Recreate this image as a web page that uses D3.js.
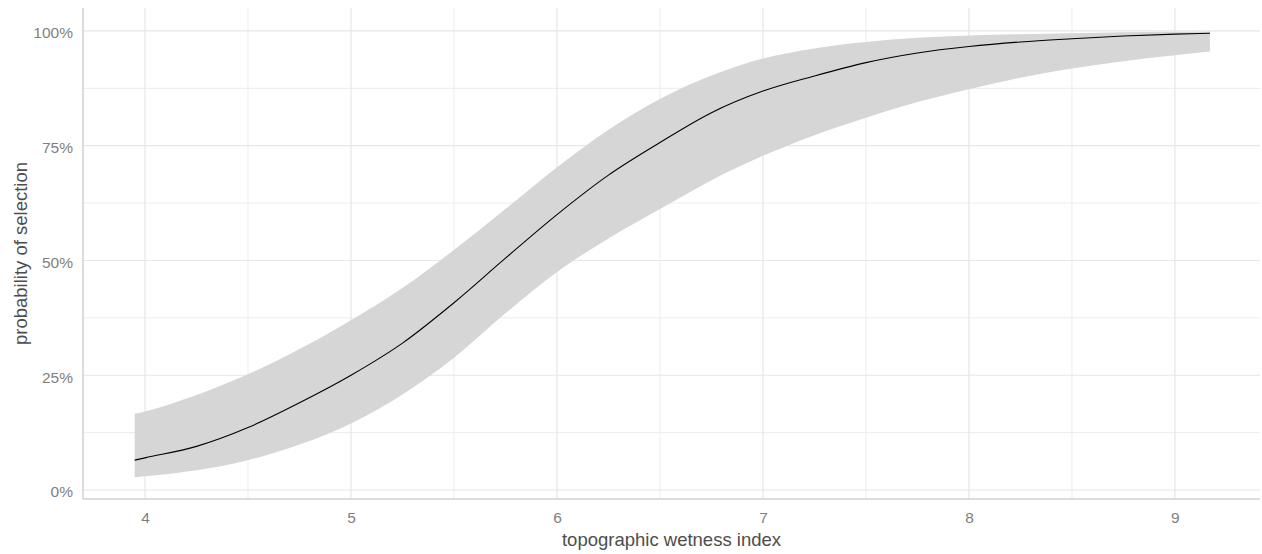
<!DOCTYPE html>
<html>
<head>
<meta charset="utf-8">
<script src="https://cdn.jsdelivr.net/npm/d3@7"></script>
<style>
  html, body { margin: 0; padding: 0; background: #ffffff; }
  svg { display: block; font-family: "Liberation Sans", Arial, sans-serif; }
</style>
</head>
<body>
<svg id="chart" width="1262" height="554"></svg>
<script>
// Predicted probability of selection along topographic wetness index
const twi   = [3.95, 4.00, 4.25, 4.50, 4.75, 5.00, 5.25, 5.50, 5.75, 6.00, 6.25, 6.50, 6.75, 7.00, 7.25, 7.50, 7.75, 8.00, 8.25, 8.50, 8.75, 9.00, 9.17];
const prob  = [0.065, 0.070, 0.095, 0.136, 0.190, 0.250, 0.320, 0.408, 0.505, 0.600, 0.686, 0.757, 0.822, 0.869, 0.902, 0.931, 0.952, 0.966, 0.976, 0.983, 0.989, 0.993, 0.995];
const lower = [0.028, 0.030, 0.043, 0.065, 0.099, 0.145, 0.208, 0.288, 0.385, 0.475, 0.548, 0.612, 0.675, 0.728, 0.773, 0.811, 0.845, 0.873, 0.898, 0.918, 0.934, 0.947, 0.955];
const upper = [0.166, 0.171, 0.207, 0.252, 0.307, 0.370, 0.440, 0.523, 0.612, 0.703, 0.785, 0.852, 0.903, 0.940, 0.962, 0.976, 0.985, 0.990, 0.993, 0.995, 0.997, 0.998, 0.999];

const xTicks = [4, 5, 6, 7, 8, 9];
const xMinor = [4.5, 5.5, 6.5, 7.5, 8.5];
const yTicks = [0, 0.25, 0.5, 0.75, 1];
const yMinor = [0.125, 0.375, 0.625, 0.875];

const rows = twi.map((x, i) => ({ x, p: prob[i], lo: lower[i], hi: upper[i] }));

const panel = { left: 83, right: 1260, top: 8, bottom: 499 };

const x = d3.scaleLinear().domain([3.699, 9.413]).range([panel.left, panel.right]);
const y = d3.scaleLinear().domain([-0.0196, 1.050]).range([panel.bottom, panel.top]);

const svg = d3.select("#chart");

// grid lines
const grid = svg.append("g");
grid.selectAll(".vminor").data(xMinor).join("line")
  .attr("x1", d => x(d)).attr("x2", d => x(d))
  .attr("y1", panel.top).attr("y2", panel.bottom)
  .attr("stroke", "#ececec").attr("stroke-width", 1);
grid.selectAll(".hminor").data(yMinor).join("line")
  .attr("x1", panel.left).attr("x2", panel.right)
  .attr("y1", d => y(d)).attr("y2", d => y(d))
  .attr("stroke", "#ececec").attr("stroke-width", 1);
grid.selectAll(".vmajor").data(xTicks).join("line")
  .attr("x1", d => x(d)).attr("x2", d => x(d))
  .attr("y1", panel.top).attr("y2", panel.bottom)
  .attr("stroke", "#e6e6e6").attr("stroke-width", 1.2);
grid.selectAll(".hmajor").data(yTicks).join("line")
  .attr("x1", panel.left).attr("x2", panel.right)
  .attr("y1", d => y(d)).attr("y2", d => y(d))
  .attr("stroke", "#e6e6e6").attr("stroke-width", 1.2);

// confidence band
svg.append("path")
  .datum(rows)
  .attr("fill", "#d6d6d6")
  .attr("d", d3.area().x(d => x(d.x)).y0(d => y(d.lo)).y1(d => y(d.hi)).curve(d3.curveMonotoneX));

// fitted curve
svg.append("path")
  .datum(rows)
  .attr("fill", "none")
  .attr("stroke", "#000000")
  .attr("stroke-width", 1.1)
  .attr("d", d3.line().x(d => x(d.x)).y(d => y(d.p)).curve(d3.curveMonotoneX));

// axis lines
svg.append("line")
  .attr("x1", panel.left).attr("x2", panel.left)
  .attr("y1", panel.top).attr("y2", panel.bottom)
  .attr("stroke", "#d0d0d0").attr("stroke-width", 1.5);
svg.append("line")
  .attr("x1", panel.left).attr("x2", panel.right)
  .attr("y1", panel.bottom).attr("y2", panel.bottom)
  .attr("stroke", "#d0d0d0").attr("stroke-width", 1.5);

// axes (labels only)
const xAxis = svg.append("g")
  .attr("transform", `translate(0,${panel.bottom})`)
  .call(d3.axisBottom(x).tickValues(xTicks).tickFormat(d3.format("d")).tickSize(0).tickPadding(13));
xAxis.select(".domain").remove();
xAxis.selectAll("text").attr("fill", "#7f7f7f").attr("font-size", 15.5).attr("font-family", "Liberation Sans, Arial, sans-serif");

const yAxis = svg.append("g")
  .attr("transform", `translate(${panel.left},0)`)
  .call(d3.axisLeft(y).tickValues(yTicks).tickFormat(d3.format(".0%")).tickSize(0).tickPadding(10));
yAxis.select(".domain").remove();
yAxis.selectAll("text").attr("fill", "#7f7f7f").attr("font-size", 15.5).attr("font-family", "Liberation Sans, Arial, sans-serif")
  .attr("dy", "0.45em");

// axis titles
svg.append("text")
  .attr("x", (panel.left + panel.right) / 2)
  .attr("y", 545.5)
  .attr("text-anchor", "middle")
  .attr("fill", "#4d4d4d")
  .attr("font-size", 18.5)
  .text("topographic wetness index");

svg.append("text")
  .attr("transform", `translate(27,${(panel.top + panel.bottom) / 2}) rotate(-90)`)
  .attr("text-anchor", "middle")
  .attr("fill", "#4d4d4d")
  .attr("font-size", 18.5)
  .text("probability of selection");
</script>
</body>
</html>
